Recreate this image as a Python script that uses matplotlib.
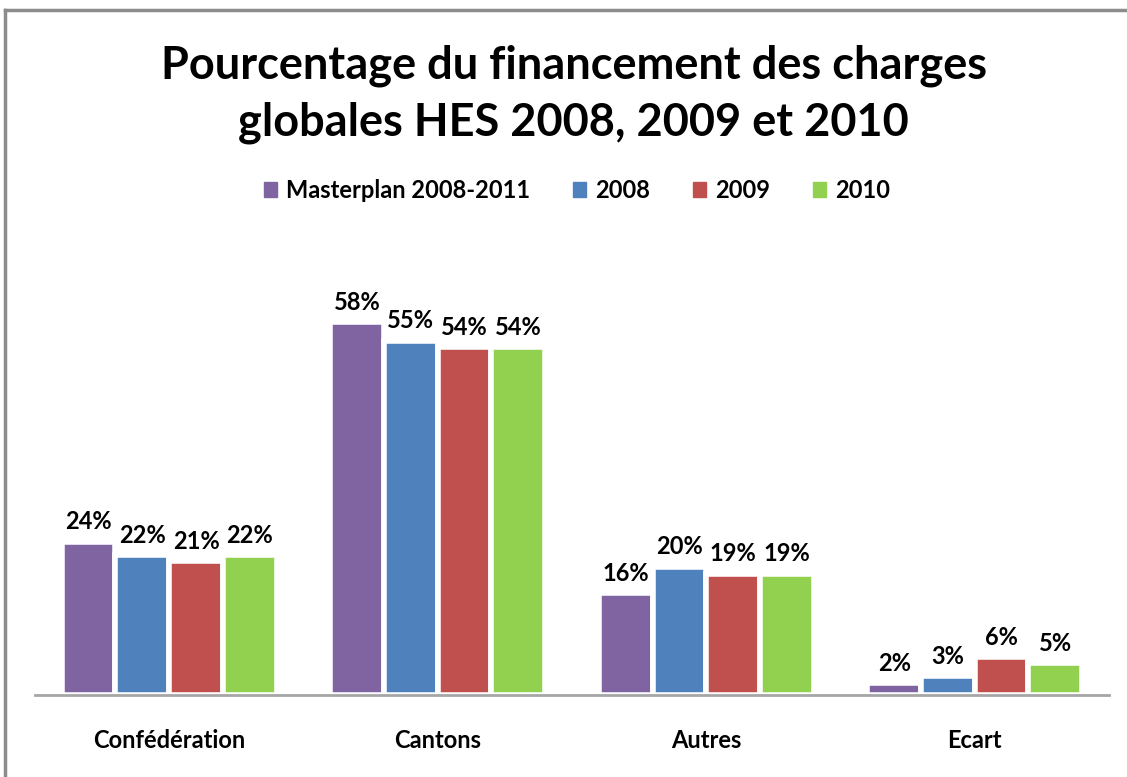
import matplotlib.pyplot as plt
import matplotlib.patches as mpatches
import matplotlib.lines as mlines
import numpy as np

plt.rcParams['font.family'] = ['Lato', 'DejaVu Sans']

categories = ['Confédération', 'Cantons', 'Autres', 'Ecart']
series = ['Masterplan 2008-2011', '2008', '2009', '2010']
masterplan = [23.9, 58.0, 15.9, 1.9]
y2008 = [21.8, 55.1, 20.0, 3.0]
y2009 = [20.9, 54.1, 18.9, 5.9]
y2010 = [21.8, 54.1, 18.9, 5.0]
colors = ['#8064a2', '#4f81bd', '#c0504d', '#92d050']

fig = plt.figure(figsize=(11.27, 7.77), dpi=100)
ax = fig.add_axes([0.031, 0.105, 0.953, 0.588])

x = np.arange(len(categories))
step = 0.2
for i, (vals, col) in enumerate(zip([masterplan, y2008, y2009, y2010], colors)):
    pos = x + (i - 1.5) * step
    ax.bar(pos, vals, width=step, color=col, edgecolor='white', linewidth=4, label=series[i])
    for p, v in zip(pos, vals):
        ax.text(p, v + 1.3, f'{v:.0f}%', ha='center', va='bottom', fontsize=17, fontweight='bold')

ax.set_xlim(-0.5, len(categories) - 0.5)
ax.set_ylim(0, 71)
ax.set_yticks([])
ax.set_xticks(x)
ax.set_xticklabels(categories, fontsize=17, fontweight='bold')
ax.tick_params(axis='x', length=0, pad=24)
for s in ['top', 'left', 'right']:
    ax.spines[s].set_visible(False)
ax.spines['bottom'].set_color('#a6a6a6')
ax.spines['bottom'].set_linewidth(2)

fig.text(0.509, 0.915, 'Pourcentage du financement des charges', ha='center', va='center',
         fontsize=32.5, fontweight='bold')
fig.text(0.509, 0.842, 'globales HES 2008, 2009 et 2010', ha='center', va='center',
         fontsize=32.5, fontweight='bold')

handles = [mpatches.Patch(color=c, label=s) for c, s in zip(colors, series)]
fig.legend(handles=handles, loc='center', bbox_to_anchor=(0.512, 0.755), ncol=4, frameon=False,
           prop={'size': 17, 'weight': 'bold'}, handlelength=0.55, handleheight=0.55,
           handletextpad=0.4, columnspacing=1.8)

# outer chart border (top and left edges visible)
fig.add_artist(mlines.Line2D([0.0045, 1.0], [0.987, 0.987], transform=fig.transFigure,
                             color='#8c8c8c', linewidth=2.5))
fig.add_artist(mlines.Line2D([0.0045, 0.0045], [0.0, 0.987], transform=fig.transFigure,
                             color='#8c8c8c', linewidth=2.5))

fig.savefig('out.png', dpi=100, facecolor='white')
